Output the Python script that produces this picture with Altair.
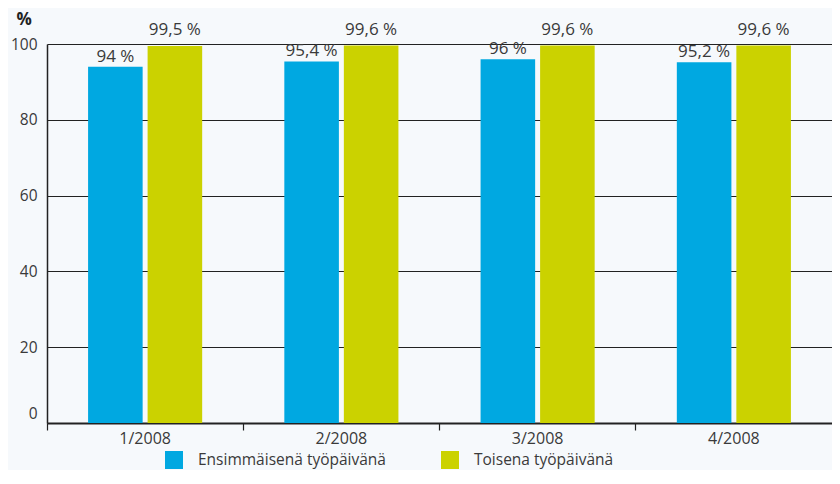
import altair as alt
import pandas as pd

quarters = ["1/2008", "2/2008", "3/2008", "4/2008"]
series_names = ["Ensimmäisenä työpäivänä", "Toisena työpäivänä"]
first_day = [94.0, 95.4, 96.0, 95.2]
second_day = [99.5, 99.6, 99.6, 99.6]
y_ticks = [0, 20, 40, 60, 80, 100]
colors = ["#00a8e1", "#cbd200"]

rows = []
for q, a, b in zip(quarters, first_day, second_day):
    rows.append({"quarter": q, "series": series_names[0], "value": a, "order": 0})
    rows.append({"quarter": q, "series": series_names[1], "value": b, "order": 1})
df = pd.DataFrame(rows)

FONT = "Open Sans"
TXT = "#3a3a3a"

x_enc = alt.X(
    "quarter:N",
    sort=quarters,
    scale=alt.Scale(paddingInner=0, paddingOuter=0),
    axis=alt.Axis(
        title=None,
        labelAngle=0,
        labelFontSize=16,
        labelColor=TXT,
        labelFont=FONT,
        labelPadding=0,
        tickSize=7,
        tickColor="#222",
        tickWidth=1.2,
        bandPosition=0,
        domainColor="#222",
        domainWidth=2,
        grid=False,
    ),
)
xoff = alt.XOffset(
    "series:N",
    sort=series_names,
    scale=alt.Scale(paddingInner=0.0833, paddingOuter=0.69),
)
y_enc = alt.Y(
    "value:Q",
    scale=alt.Scale(domain=[0, 100], nice=False),
    axis=alt.Axis(
        values=y_ticks,
        title="%",
        titleAngle=0,
        titleX=-31,
        titleY=-25,
        titleAlign="left",
        titleBaseline="middle",
        titleFontWeight="bold",
        titleFontSize=17,
        titleFont=FONT,
        titleColor="#222",
        labelFontSize=15.5,
        labelFont=FONT,
        labelColor=TXT,
        labelPadding=10,
        labelOffset={"condition": {"test": "datum.value === 0", "value": -10}, "value": 0},
        ticks=False,
        domainColor="#222",
        domainWidth=1.5,
        grid=True,
        gridColor="#222",
        gridWidth=1.2,
        gridOpacity=1,
    ),
)

bars = alt.Chart(df).mark_bar().encode(
    x=x_enc,
    xOffset=xoff,
    y=y_enc,
    color=alt.Color(
        "series:N",
        sort=series_names,
        scale=alt.Scale(domain=series_names, range=colors),
        legend=alt.Legend(
            title=None,
            orient="none",
            legendX=118,
            legendY=407,
            direction="horizontal",
            columns=2,
            columnPadding=55,
            symbolType="square",
            symbolSize=324,
            symbolStrokeWidth=0,
            symbolOpacity=1,
            labelFontSize=15.5,
            labelFont=FONT,
            labelColor=TXT,
            labelOffset=15,
            labelLimit=400,
        ),
    ),
)

label_expr = "replace(format(datum.value, '.1~f'), '.', ',') + ' %'"

text1 = alt.Chart(df).transform_filter("datum.order == 0").transform_calculate(
    lab=label_expr
).mark_text(baseline="bottom", dy=-1, fontSize=17, font=FONT, color=TXT).encode(
    x=alt.X("quarter:N", sort=quarters), xOffset=alt.XOffset("series:N", sort=series_names),
    y="value:Q", text="lab:N"
)
text2 = alt.Chart(df).transform_filter("datum.order == 1").transform_calculate(
    lab=label_expr
).mark_text(baseline="bottom", dy=-7, fontSize=17, font=FONT, color=TXT).encode(
    x=alt.X("quarter:N", sort=quarters), xOffset=alt.XOffset("series:N", sort=series_names),
    y="value:Q", text="lab:N"
)

chart = alt.layer(bars, text1, text2).properties(
    width=785,
    height=379,
    autosize=alt.AutoSizeParams(type="none"),
    padding={"left": 39, "top": 36, "right": 0, "bottom": 47},
    background="#f6f9fc",
).configure_view(stroke=None)

chart.save("out.html", embed_options={"renderer": "svg", "actions": False})
